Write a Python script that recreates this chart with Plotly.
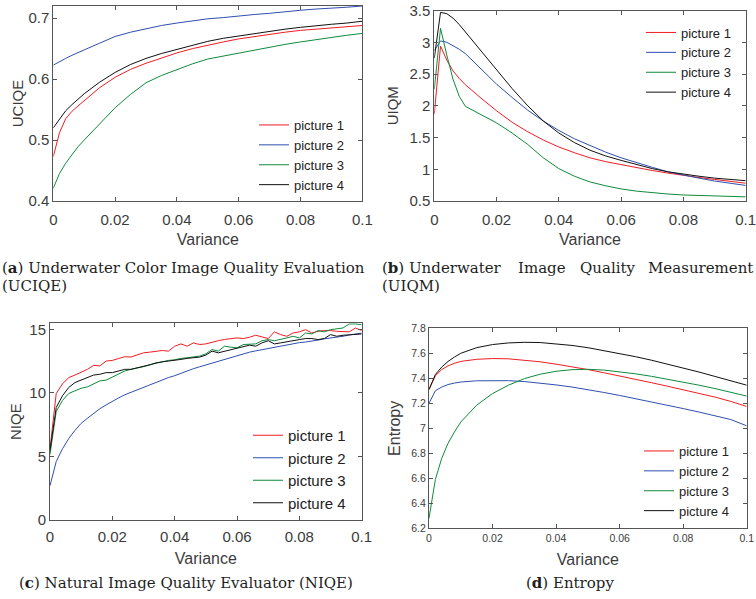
import plotly.graph_objects as go

# ---------------- data ----------------
series_names = ["picture 1", "picture 2", "picture 3", "picture 4"]
series_colors = ["#ee1d23", "#2f4fae", "#0f8a3c", "#111111"]

# variance levels used for UCIQE, UIQM and Entropy
variance = [0, 0.002, 0.004, 0.006, 0.008, 0.01, 0.015, 0.02, 0.025, 0.03, 0.035, 0.04,
            0.045, 0.05, 0.055, 0.06, 0.065, 0.07, 0.075, 0.08, 0.085, 0.09, 0.095, 0.1]

uciqe_p1 = [0.473, 0.512, 0.535, 0.547, 0.556, 0.565, 0.586, 0.603, 0.616, 0.626, 0.635, 0.643,
            0.650, 0.656, 0.661, 0.666, 0.670, 0.673, 0.677, 0.680, 0.682, 0.684, 0.686, 0.688]
uciqe_p2 = [0.623, 0.629, 0.634, 0.639, 0.643, 0.648, 0.659, 0.670, 0.677, 0.683, 0.688, 0.692,
            0.696, 0.699, 0.701, 0.704, 0.706, 0.708, 0.711, 0.713, 0.715, 0.716, 0.718, 0.720]
uciqe_p3 = [0.421, 0.445, 0.462, 0.476, 0.489, 0.500, 0.527, 0.553, 0.575, 0.594, 0.606, 0.616,
            0.625, 0.633, 0.638, 0.643, 0.648, 0.652, 0.657, 0.661, 0.665, 0.668, 0.672, 0.675]
uciqe_p4 = [0.520, 0.535, 0.548, 0.558, 0.567, 0.576, 0.595, 0.611, 0.624, 0.634, 0.642, 0.649,
            0.656, 0.662, 0.667, 0.671, 0.675, 0.678, 0.682, 0.685, 0.688, 0.690, 0.692, 0.695]

uiqm_p1 = [1.87, 2.94, 2.72, 2.55, 2.43, 2.33, 2.12, 1.92, 1.74, 1.59, 1.46, 1.35,
           1.26, 1.18, 1.12, 1.07, 1.02, 0.98, 0.94, 0.90, 0.87, 0.84, 0.81, 0.78]
uiqm_p2 = [2.87, 3.02, 3.00, 2.95, 2.89, 2.82, 2.58, 2.34, 2.13, 1.93, 1.76, 1.61,
           1.48, 1.37, 1.27, 1.18, 1.10, 1.03, 0.96, 0.905, 0.86, 0.815, 0.775, 0.745]
uiqm_p3 = [2.26, 3.22, 2.80, 2.42, 2.15, 1.99, 1.86, 1.73, 1.57, 1.39, 1.18, 1.01,
           0.89, 0.80, 0.74, 0.69, 0.655, 0.63, 0.61, 0.595, 0.585, 0.575, 0.57, 0.565]
uiqm_p4 = [2.75, 3.47, 3.45, 3.38, 3.28, 3.16, 2.86, 2.56, 2.27, 2.00, 1.76, 1.57,
           1.42, 1.30, 1.21, 1.14, 1.07, 1.01, 0.96, 0.92, 0.89, 0.86, 0.84, 0.82]

entropy_p1 = [7.31, 7.42, 7.47, 7.50, 7.52, 7.535, 7.552, 7.558, 7.556, 7.547, 7.532, 7.513,
              7.493, 7.47, 7.445, 7.42, 7.393, 7.365, 7.337, 7.31, 7.28, 7.25, 7.215, 7.175]
entropy_p2 = [7.20, 7.30, 7.33, 7.35, 7.362, 7.37, 7.38, 7.383, 7.381, 7.374, 7.362, 7.347,
              7.33, 7.31, 7.287, 7.263, 7.238, 7.212, 7.185, 7.158, 7.13, 7.10, 7.07, 7.02]
entropy_p3 = [6.28, 6.59, 6.76, 6.88, 6.97, 7.05, 7.185, 7.278, 7.345, 7.397, 7.433, 7.456,
              7.469, 7.472, 7.466, 7.453, 7.436, 7.416, 7.394, 7.37, 7.345, 7.318, 7.29, 7.258]
entropy_p4 = [7.31, 7.43, 7.49, 7.535, 7.57, 7.60, 7.645, 7.67, 7.683, 7.688, 7.686, 7.677,
              7.663, 7.645, 7.622, 7.598, 7.573, 7.545, 7.515, 7.483, 7.45, 7.415, 7.38, 7.345]

# NIQE is sampled on a finer variance grid (step 0.002)
variance_fine = [round(0.002 * i, 3) for i in range(51)]

niqe_p1 = [5.6, 9.95, 10.7, 11.2, 11.4, 11.6, 11.85, 12.16, 12.12, 12.5, 12.55, 12.7, 12.84,
           12.82, 13.0, 13.15, 13.2, 13.28, 13.33, 13.28, 13.67, 13.85, 13.67, 13.93, 13.8,
           13.85, 14.0, 14.1, 14.2, 14.27, 14.32, 14.27, 14.37, 14.53, 14.37, 14.27, 14.8,
           14.58, 14.45, 14.71, 14.8, 14.97, 14.71, 14.84, 14.9, 14.9, 14.84, 14.84, 14.8,
           15.1, 14.9]
niqe_p2 = [2.7, 4.6, 5.6, 6.4, 7.05, 7.6, 8.0, 8.4, 8.75, 9.05, 9.35, 9.6, 9.85, 10.05,
           10.25, 10.45, 10.65, 10.85, 11.0, 11.2, 11.35, 11.55, 11.7, 11.9, 12.05, 12.2,
           12.3, 12.45, 12.6, 12.8, 12.95, 13.05, 13.2, 13.3, 13.4, 13.5, 13.6, 13.65, 13.75,
           13.85, 13.95, 14.0, 14.05, 14.15, 14.25, 14.3, 14.4, 14.45, 14.55, 14.65, 14.7]
niqe_p3 = [5.16, 8.54, 9.4, 9.95, 10.16, 10.36, 10.47, 10.68, 10.94, 11.0, 11.25, 11.46,
           11.72, 11.85, 11.93, 12.06, 12.19, 12.37, 12.42, 12.55, 12.6, 12.71, 12.76, 12.81,
           12.89, 13.07, 13.41, 13.28, 13.67, 13.59, 13.54, 13.8, 13.8, 13.85, 14.1, 14.19,
           14.1, 14.19, 14.32, 14.45, 14.32, 14.71, 14.63, 14.9, 14.8, 14.97, 15.05, 15.1,
           15.42, 15.42, 15.36]
niqe_p4 = [5.47, 8.85, 9.77, 10.42, 10.81, 11.0, 11.15, 11.4, 11.46, 11.59, 11.59, 11.72,
           11.85, 11.85, 11.98, 12.11, 12.24, 12.37, 12.45, 12.5, 12.55, 12.63, 12.71, 12.76,
           12.81, 12.97, 13.28, 13.15, 13.28, 13.41, 13.54, 13.67, 13.75, 13.67, 13.93, 14.1,
           13.85, 13.93, 14.0, 14.1, 14.19, 14.27, 14.27, 14.19, 14.27, 14.58, 14.45, 14.53,
           14.58, 14.63, 14.63]

x_tickvals = [0, 0.02, 0.04, 0.06, 0.08, 0.1]
x_ticktext = ["0", "0.02", "0.04", "0.06", "0.08", "0.1"]

# ---------------- figure ----------------
W, H = 756, 599
SANS = "Liberation Sans, Arial, sans-serif"
SERIF = "DejaVu Serif, serif"
AXCOL = "#555555"
TXTCOL = "#3c3c3c"


def px_x(p):
    return p / W


def px_y(p):
    return 1 - p / H


fig = go.Figure()

panels = [
    # x name, y name, legend id, x data, series list
    ("x", "y", "legend", variance, [uciqe_p1, uciqe_p2, uciqe_p3, uciqe_p4]),
    ("x2", "y2", "legend2", variance, [uiqm_p1, uiqm_p2, uiqm_p3, uiqm_p4]),
    ("x3", "y3", "legend3", variance_fine, [niqe_p1, niqe_p2, niqe_p3, niqe_p4]),
    ("x4", "y4", "legend4", variance, [entropy_p1, entropy_p2, entropy_p3, entropy_p4]),
]

for xa, ya, leg, xs, series in panels:
    for name, color, ys in zip(series_names, series_colors, series):
        fig.add_trace(go.Scatter(
            x=xs, y=ys, mode="lines", name=name, xaxis=xa, yaxis=ya, legend=leg,
            line=dict(color=color, width=1.0), hoverinfo="skip"))


def axis_style(domain, rng, tickvals, ticktext, title, tick_size, title_size,
               standoff, label_gap, anchor):
    return dict(
        domain=domain, range=rng, anchor=anchor,
        tickvals=tickvals, ticktext=ticktext,
        ticks="inside", ticklen=4, tickwidth=1, tickcolor=AXCOL,
        showline=True, linecolor=AXCOL, linewidth=1, mirror="ticks",
        showgrid=False, zeroline=False,
        tickfont=dict(family=SANS, size=tick_size, color=TXTCOL),
        ticklabelstandoff=label_gap, ticklabeloverflow="allow",
        title=dict(text=title, font=dict(family=SANS, size=title_size, color=TXTCOL),
                   standoff=standoff),
        automargin=False, fixedrange=True,
    )


fig.update_layout(
    # (a) UCIQE
    xaxis=axis_style([px_x(53.3), px_x(362.3)], [0, 0.1], x_tickvals, x_ticktext,
                     "Variance", 15, 16, 6, 5, "y"),
    yaxis=axis_style([px_y(201), px_y(6)], [0.4, 0.72], [0.4, 0.5, 0.6, 0.7],
                     ["0.4", "0.5", "0.6", "0.7"], "UCIQE", 15, 15, 1, 0, "x"),
    # (b) UIQM
    xaxis2=axis_style([px_x(434.3), px_x(745.7)], [0, 0.1], x_tickvals, x_ticktext,
                      "Variance", 15, 16, 6, 5, "y2"),
    yaxis2=axis_style([px_y(201), px_y(10.5)], [0.5, 3.5],
                      [0.5, 1, 1.5, 2, 2.5, 3, 3.5],
                      ["0.5", "1", "1.5", "2", "2.5", "3", "3.5"], "UIQM", 15, 15, 7, 0, "x2"),
    # (c) NIQE
    xaxis3=axis_style([px_x(50), px_x(361.7)], [0, 0.1], x_tickvals, x_ticktext,
                      "Variance", 15, 16, 8, 3, "y3"),
    yaxis3=axis_style([px_y(520), px_y(323.3)], [0, 15.47], [0, 5, 10, 15],
                      ["0", "5", "10", "15"], "NIQE", 15, 15, 4, 0, "x3"),
    # (d) Entropy
    xaxis4=axis_style([px_x(429), px_x(746.7)], [0, 0.1], x_tickvals, x_ticktext,
                      "Variance", 10.5, 16, 10, 0, "y4"),
    yaxis4=axis_style([px_y(528.3), px_y(328.3)], [6.2, 7.8],
                      [6.2, 6.4, 6.6, 6.8, 7.0, 7.2, 7.4, 7.6, 7.8],
                      ["6.2", "6.4", "6.6", "6.8", "7", "7.2", "7.4", "7.6", "7.8"],
                      "Entropy", 10.5, 16, 6, 0, "x4"),
)


def legend_style(x_px, y_px, size):
    return dict(x=px_x(x_px), y=px_y(y_px), xanchor="left", yanchor="top",
                bgcolor="rgba(0,0,0,0)", borderwidth=0, tracegroupgap=0,
                font=dict(family=SANS, size=size, color="#222222"), itemwidth=30)


fig.update_layout(
    legend=legend_style(254, 110, 13),
    legend2=legend_style(641, 17.5, 13),
    legend3=legend_style(248, 419, 15),
    legend4=legend_style(639, 436, 13),
)

# sub-figure captions
cap_font = dict(family=SERIF, size=15, color="#1e1e1e")
captions = [
    ("(<b>a</b>) Underwater Color Image Quality Evaluation", 0, 268, "left"),
    ("(UCIQE)", 0, 286, "left"),
    ("(<b>b</b>) Underwater", 380, 268, "left"),
    ("Image", 541.7, 268, "center"),
    ("Quality", 607.8, 268, "center"),
    ("Measurement", 755, 268, "right"),
    ("(UIQM)", 380, 286, "left"),
    ("(<b>c</b>) Natural Image Quality Evaluator (NIQE)", 186, 583, "center"),
    ("(<b>d</b>) Entropy", 569.7, 583, "center"),
]
annotations = []
for text, xp, yp, anchor in captions:
    annotations.append(dict(text=text, x=px_x(xp), y=px_y(yp), xref="paper", yref="paper",
                            xanchor=anchor, yanchor="middle", showarrow=False, font=cap_font))

fig.update_layout(
    annotations=annotations,
    width=W, height=H,
    margin=dict(l=0, r=0, t=0, b=0),
    paper_bgcolor="white", plot_bgcolor="white",
    showlegend=True,
)

fig.write_html("out.html", config={"displayModeBar": False})
